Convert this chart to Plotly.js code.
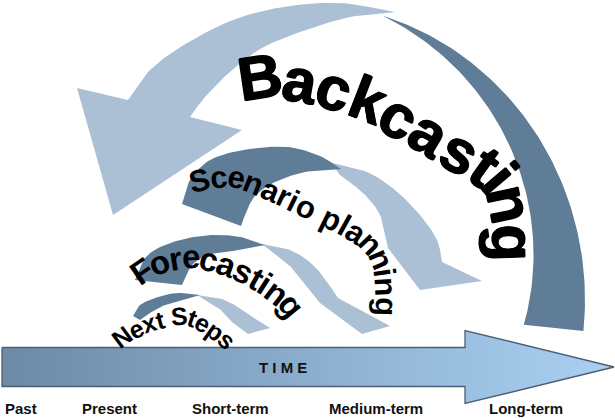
<!DOCTYPE html>
<html><head><meta charset="utf-8">
<script src="https://cdn.plot.ly/plotly-3.0.1.min.js"></script>
<style>html,body{margin:0;padding:0;background:#fff}#chart{width:615px;height:418px}</style>
</head><body><div id="chart"></div>
<script>
// ---------------- content (text) ----------------
const timeLabels = ['Past', 'Present', 'Short-term', 'Medium-term', 'Long-term'];
const axisLabel = 'T I M E';
const methods = ['Backcasting', 'Scenario planning', 'Forecasting', 'Next Steps'];
const methodFontSizes = [61, 31, 33, 25];

// ---------------- colours ----------------
const DARK = '#5f7d97';
const LIGHT = '#abc0d5';
const TIME_GRAD = [[0, '#6c8aa5'], [0.55, '#8fb2d2'], [1, '#aad0f1']];
const FONT = 'Liberation Sans';
const EMBOLDEN = '0.7px 0 0 #000, -0.7px 0 0 #000, 0 0.7px 0 #000, 0 -0.7px 0 #000';

// ---------------- geometry (pixel space of the 615x418 page) ----------------
const GEOM = {
  timeArrow: {x0: 2, xNeck: 465, xTip: 614, yMid: 367, bodyHalf: 19.5, headHalf: 36.5},
  timeLabelLeft: [3, 80, 190, 327, 487], timeLabelY: 408,
  big: {
    dark: {c: [300, 300], rx: 285, ry: 297, a0: -6, a1: 73, t0: 60, t1: 0},
    lightOuter: [[128,100],[150,70],[187,43],[233,20],[283,7],[340,3],[395,12]],
    lightInner: [[395,12],[350,17],[300,32],[262,48],[232,70],[205,97],[190,117]],
    head: [[190,117],[242,130],[113,215],[77,88],[128,100]]
  },
  scenario: {
    dark: [[[182,204],[190,180],[210,160],[243,150],[287,147],[320,156],[341,169]],
           [[341,169],[305,172],[275,182],[256,195],[247,210],[241,226]], [[241,226],[182,204]]],
    light: [[[333,163],[367,172],[395,190],[420,215],[437,240],[442,262]],
            [[442,262],[482,281]], [[482,281],[420,290]], [[420,290],[388,248]],
            [[388,248],[380,215],[362,192],[340,175],[333,163]]]
  },
  forecast: {
    dark: [[[135,280],[145,258],[165,245],[200,236],[235,236],[265,245]],
           [[265,245],[240,250],[212,254],[193,264],[182,285]], [[182,285],[135,280]]],
    light: [[[262,244],[290,250],[312,264],[327,282],[338,298]],
            [[338,298],[390,326]], [[390,326],[362,334]], [[362,334],[320,303]],
            [[320,303],[305,284],[292,268],[276,255],[262,244]]]
  },
  next: {
    dark: [[[133,316],[140,305],[155,298],[176,293],[200,295]],
           [[200,295],[182,300],[165,305],[150,313],[140,320]], [[140,320],[133,316]]],
    light: [[[197,295],[222,299],[241,309],[254,318]],
            [[254,318],[270,328]], [[270,328],[248,334]], [[248,334],[232,322]],
            [[232,322],[222,311],[208,302],[197,295]]]
  },
  textPaths: [
    {pts: [[239,86],[263,77],[307,82],[343,92],[373,102],[400,117],[427,132],[453,148],[482,164],[502,182],[510,205],[513,232],[514,262]]},
    {pts: [[190,184],[201,180],[233,177],[270,190],[308,208],[343,225],[370,243],[383,265],[386,290],[386,316]]},
    {pts: [[134,278],[143,271],[163,261],[197,257],[230,266],[255,278],[275,291],[290,304],[297,314]]},
    {pts: [[115,343],[125,335],[145,325],[170,318],[183,316],[197,320],[210,327],[225,338],[232,345]]}
  ]
};

// ---------------- helpers ----------------
function smooth(pts, seg) {
  seg = seg || 10;
  const n = pts.length;
  if (n < 3) return pts.map(p => p.slice());
  const out = [];
  for (let i = 0; i < n - 1; i++) {
    const p1 = pts[i], p2 = pts[i + 1];
    const p0 = i > 0 ? pts[i - 1] : [2 * p1[0] - p2[0], 2 * p1[1] - p2[1]];
    const p3 = i + 2 < n ? pts[i + 2] : [2 * p2[0] - p1[0], 2 * p2[1] - p1[1]];
    for (let k = 0; k < seg; k++) {
      const t = k / seg, t2 = t * t, t3 = t2 * t;
      const f = (a, b, c, d) => 0.5 * (2 * b + (-a + c) * t + (2 * a - 5 * b + 4 * c - d) * t2 + (-a + 3 * b - 3 * c + d) * t3);
      out.push([f(p0[0], p1[0], p2[0], p3[0]), f(p0[1], p1[1], p2[1], p3[1])]);
    }
  }
  out.push(pts[n - 1].slice());
  return out;
}
function outline(pieces) {
  let all = [];
  pieces.forEach(p => { all = all.concat(smooth(p, 12)); });
  return all;
}
function ellipsePt(c, rx, ry, a) {
  const r = a * Math.PI / 180;
  return [c[0] + rx * Math.cos(r), c[1] - ry * Math.sin(r)];
}
function band(spec) {
  const outer = [], inner = [];
  const N = 80;
  for (let i = 0; i <= N; i++) {
    const a = spec.a0 + (spec.a1 - spec.a0) * i / N;
    const t = spec.t0 + (spec.t1 - spec.t0) * i / N;
    outer.push(ellipsePt(spec.c, spec.rx, spec.ry, a));
    inner.push(ellipsePt(spec.c, spec.rx - t, spec.ry - t, a));
  }
  return outer.concat(inner.reverse());
}
function polyTrace(pts, fill, extra) {
  const closed = pts.concat([pts[0]]);
  return Object.assign({
    type: 'scatter', mode: 'lines',
    x: closed.map(p => p[0]), y: closed.map(p => p[1]),
    fill: 'toself', fillcolor: fill,
    line: {width: 0, color: fill}, hoverinfo: 'skip', showlegend: false
  }, extra || {});
}
function pathSamples(tp) { return smooth(tp.pts, 24); }
const ctx = document.createElement('canvas').getContext('2d');
function textOnPath(str, tp, size, shadow) {
  ctx.font = 'bold ' + size + 'px "' + FONT + '"';
  const chars = [...str];
  const widths = chars.map(ch => ctx.measureText(ch).width);
  const total = widths.reduce((a, b) => a + b, 0);
  const pts = pathSamples(tp);
  const cum = [0];
  for (let i = 1; i < pts.length; i++) cum.push(cum[i - 1] + Math.hypot(pts[i][0] - pts[i - 1][0], pts[i][1] - pts[i - 1][1]));
  const L = cum[cum.length - 1];
  const k = L / total;
  const at = s => {
    s = Math.max(0, Math.min(L, s));
    let j = 0;
    while (j < cum.length - 2 && cum[j + 1] < s) j++;
    const f = (s - cum[j]) / (cum[j + 1] - cum[j] || 1);
    return [pts[j][0] + f * (pts[j + 1][0] - pts[j][0]), pts[j][1] + f * (pts[j + 1][1] - pts[j][1])];
  };
  const anns = [];
  let acc = 0;
  chars.forEach((ch, i) => {
    const s = (acc + widths[i] / 2) * k;
    acc += widths[i];
    if (ch === ' ') return;
    const p = at(s), a = at(s - 5), b = at(s + 5);
    const ang = Math.atan2(b[1] - a[1], b[0] - a[0]) * 180 / Math.PI;
    const font = {family: FONT, size: size, color: '#000', weight: 'bold'};
    if (shadow) font.shadow = shadow;
    anns.push({x: p[0], y: p[1], xref: 'x', yref: 'y', text: ch, showarrow: false,
      textangle: ang, xanchor: 'center', yanchor: 'middle', font: font});
  });
  return anns;
}

// ---------------- build ----------------
const traces = [];
const g = GEOM;
traces.push(polyTrace(outline([g.big.lightOuter, g.big.lightInner,
  [g.big.head[0], g.big.head[1]], [g.big.head[1], g.big.head[2]], [g.big.head[2], g.big.head[3]], [g.big.head[3], g.big.head[4]]]), LIGHT));
traces.push(polyTrace(band(g.big.dark), DARK));
[g.scenario, g.forecast, g.next].forEach(a => {
  traces.push(polyTrace(outline(a.light), LIGHT));
  traces.push(polyTrace(outline(a.dark), DARK));
});
const ta = g.timeArrow;
const tPts = [[ta.x0, ta.yMid - ta.bodyHalf], [ta.xNeck, ta.yMid - ta.bodyHalf], [ta.xNeck, ta.yMid - ta.headHalf],
  [ta.xTip, ta.yMid], [ta.xNeck, ta.yMid + ta.headHalf], [ta.xNeck, ta.yMid + ta.bodyHalf], [ta.x0, ta.yMid + ta.bodyHalf]];
traces.push(polyTrace(tPts, '#8fb2d2', {
  fillgradient: {type: 'horizontal', colorscale: TIME_GRAD, start: ta.x0, stop: ta.xTip},
  line: {width: 1.3, color: '#4a5f74'}
}));

let annotations = [];
methods.forEach((m, i) => {
  annotations = annotations.concat(textOnPath(m, g.textPaths[i], methodFontSizes[i], i === 0 ? EMBOLDEN : null));
});
annotations.push({x: 283, y: ta.yMid, xref: 'x', yref: 'y', text: axisLabel, showarrow: false,
  xanchor: 'center', yanchor: 'middle', font: {family: FONT, size: 15, color: '#111', weight: 'bold'}});
timeLabels.forEach((t, i) => {
  annotations.push({x: g.timeLabelLeft[i], y: g.timeLabelY, xref: 'x', yref: 'y', text: t, showarrow: false,
    xanchor: 'left', yanchor: 'middle', font: {family: FONT, size: 15, color: '#111', weight: 'bold'}});
});

const layout = {
  width: 615, height: 418, margin: {l: 0, r: 0, t: 0, b: 0},
  paper_bgcolor: '#fff', plot_bgcolor: '#fff', showlegend: false,
  xaxis: {range: [0, 615], autorange: false, visible: false, fixedrange: true},
  yaxis: {range: [418, 0], autorange: false, visible: false, fixedrange: true},
  annotations: annotations
};
Plotly.newPlot('chart', traces, layout, {staticPlot: true, displayModeBar: false});
</script></body></html>
